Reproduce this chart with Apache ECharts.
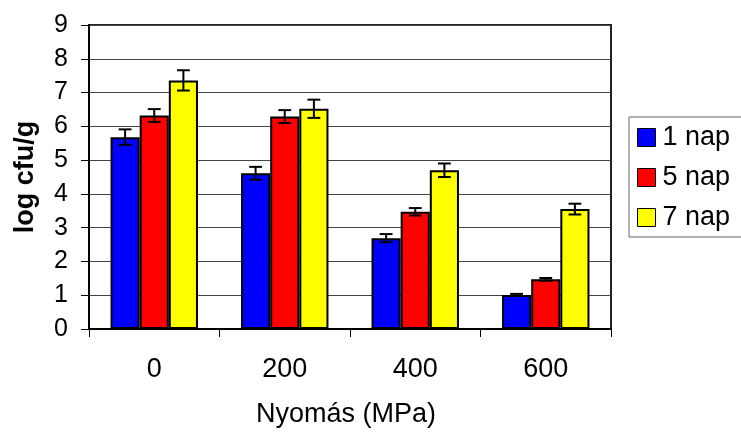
<!DOCTYPE html>
<html>
<head>
<meta charset="utf-8">
<script src="https://cdn.jsdelivr.net/npm/echarts@6/dist/echarts.min.js"></script>
<style>
  html, body { margin: 0; padding: 0; background: #fff; }
  #chart { width: 741px; height: 433px; }
</style>
</head>
<body>
<div id="chart"></div>
<script>
// Pressure levels (MPa) on the category axis
const categories = ['0', '200', '400', '600'];
const seriesNames = ['1 nap', '5 nap', '7 nap'];
const seriesColors = ['#0000ff', '#ff0000', '#ffff00'];

// Mean log cfu/g per storage day
const nap1 = [5.68, 4.61, 2.69, 1.01];
const nap5 = [6.32, 6.29, 3.47, 1.47];
const nap7 = [7.36, 6.52, 4.70, 3.55];

// Error bar half-widths (± log cfu/g)
const err1 = [0.23, 0.19, 0.12, 0.03];
const err5 = [0.19, 0.19, 0.11, 0.04];
const err7 = [0.30, 0.27, 0.20, 0.16];

const yTicks = { min: 0, max: 9, interval: 1 };

const values = [nap1, nap5, nap7];
const errors = [err1, err5, err7];
const categoryGap = 0.33;
const font = 'Liberation Sans, Arial, sans-serif';

const chart = echarts.init(document.getElementById('chart'));

const barSeries = seriesNames.map((name, s) => ({
  name: name,
  type: 'bar',
  data: values[s],
  barGap: '0%',
  barCategoryGap: (categoryGap * 100) + '%',
  itemStyle: { color: seriesColors[s], borderColor: '#000', borderWidth: 2 },
  emphasis: { disabled: true },
  z: 2
}));

// Error bars positioned over each bar of the group
const errorSeries = seriesNames.map((name, s) => ({
  type: 'custom',
  name: name + ' err',
  data: values[s].map((v, i) => [i, v - errors[s][i], v + errors[s][i]]),
  z: 5,
  silent: true,
  renderItem: function (params, api) {
    const band = api.size([1, 0])[0];
    const barW = band * (1 - categoryGap) / seriesNames.length;
    const centre = api.coord([api.value(0), 0])[0];
    const x = centre + (s - (seriesNames.length - 1) / 2) * barW;
    const lo = api.coord([api.value(0), api.value(1)])[1];
    const hi = api.coord([api.value(0), api.value(2)])[1];
    const cap = barW * 0.22;
    const style = { stroke: '#000', lineWidth: 2 };
    return {
      type: 'group',
      children: [
        { type: 'line', shape: { x1: x, y1: lo, x2: x, y2: hi }, style: style },
        { type: 'line', shape: { x1: x - cap, y1: lo, x2: x + cap, y2: lo }, style: style },
        { type: 'line', shape: { x1: x - cap, y1: hi, x2: x + cap, y2: hi }, style: style }
      ]
    };
  }
}));

chart.setOption({
  backgroundColor: '#fff',
  animation: false,
  grid: {
    left: 89, right: 130, top: 25, bottom: 104,
    show: true, borderColor: '#222', borderWidth: 2, backgroundColor: '#fff'
  },
  legend: {
    data: seriesNames,
    orient: 'vertical',
    left: 629, top: 117,
    padding: [7, 40, 6, 8],
    itemWidth: 18, itemHeight: 18, itemGap: 13,
    borderColor: '#666', borderWidth: 1, backgroundColor: '#fff',
    icon: 'rect',
    itemStyle: { borderColor: '#000', borderWidth: 1 },
    textStyle: { fontFamily: font, fontSize: 27, color: '#000', padding: [0, 0, 0, 2] },
    selectedMode: false
  },
  xAxis: {
    type: 'category',
    data: categories,
    name: 'Nyomás (MPa)',
    nameLocation: 'middle',
    nameGap: 72,
    nameTextStyle: { fontFamily: font, fontSize: 27, color: '#000', padding: [0, 8, 0, 0] },
    axisLine: { lineStyle: { color: '#000', width: 2 } },
    axisTick: { show: true, length: 8, lineStyle: { color: '#000', width: 1 } },
    axisLabel: { fontFamily: font, fontSize: 27, color: '#000', margin: 27 }
  },
  yAxis: {
    type: 'value',
    min: yTicks.min, max: yTicks.max, interval: yTicks.interval,
    name: 'log cfu/g',
    nameLocation: 'middle',
    nameGap: 50,
    nameRotate: 90,
    nameTextStyle: { fontFamily: font, fontSize: 27, fontWeight: 'bold', color: '#000' },
    axisLine: { show: true, lineStyle: { color: '#000', width: 2 } },
    axisTick: { show: true, length: 8, lineStyle: { color: '#000', width: 1 } },
    axisLabel: { fontFamily: font, fontSize: 25, color: '#000', margin: 21 },
    splitLine: { lineStyle: { color: '#444', width: 1 } }
  },
  series: barSeries.concat(errorSeries)
});
</script>
</body>
</html>
